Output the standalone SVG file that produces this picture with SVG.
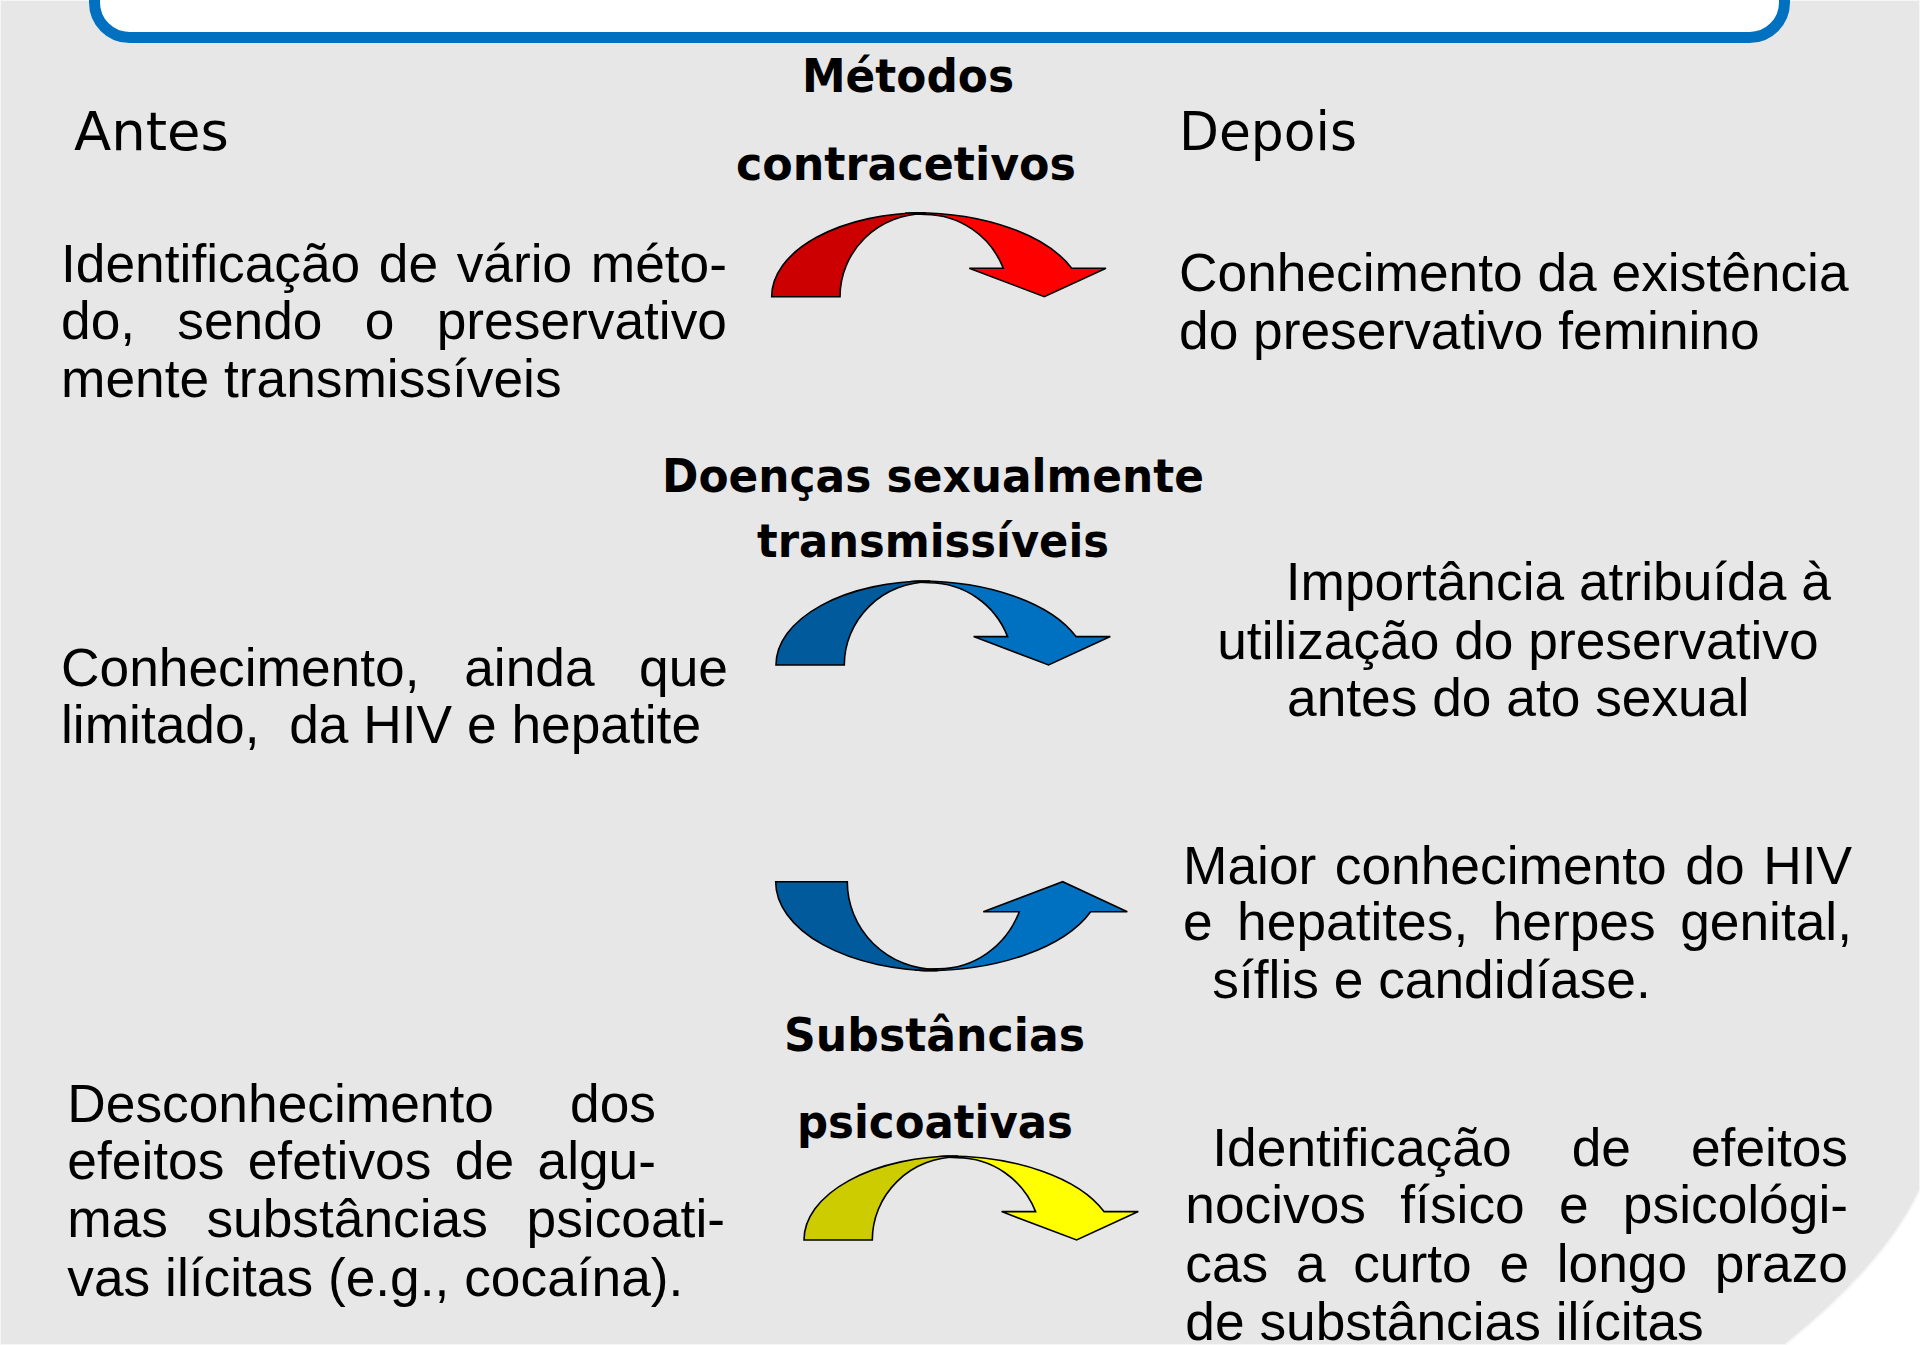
<svg xmlns="http://www.w3.org/2000/svg" width="1920" height="1345" viewBox="0 0 1920 1345">
  <style>
    .body { font-family: "Liberation Sans", Arial, sans-serif; font-size: 53.3px; fill: #000; }
    .head { font-family: "DejaVu Sans", "Liberation Sans", sans-serif; font-size: 53px; fill: #000; }
    .title { font-family: "DejaVu Sans", "Liberation Sans", sans-serif; font-size: 47px; font-weight: bold; fill: #000; }
    .arr { stroke: #000; stroke-width: 1.6; stroke-linejoin: miter; }
    .red1 { fill: #cc0000; } .red2 { fill: #ff0000; }
    .blu1 { fill: #005a9c; } .blu2 { fill: #0070c0; }
    .yel1 { fill: #cccc00; } .yel2 { fill: #ffff00; }
  </style>
  <rect x="0" y="0" width="1920" height="1345" fill="#ffffff"/>
  <path id="bg" d="M 0,0 L 1920,0 L 1920,1190 Q 1885,1265 1785,1345 L 0,1345 Z" fill="#e7e7e7" stroke="#f6f6f6" stroke-width="2"/>
  <g id="top-box">
    <rect x="94.5" y="-60" width="1690" height="97.5" rx="35" ry="35" fill="#ffffff" stroke="#0070c0" stroke-width="11"/>
  </g>

  <g id="headers">
    <text class="head" x="74" y="150" textLength="155" lengthAdjust="spacingAndGlyphs">Antes</text>
    <text class="head" x="1179" y="150" textLength="178" lengthAdjust="spacingAndGlyphs">Depois</text>
  </g>

  <g id="title-metodos">
    <text class="title" x="802" y="92" textLength="212" lengthAdjust="spacingAndGlyphs">Métodos</text>
    <text class="title" x="736" y="180" textLength="340" lengthAdjust="spacingAndGlyphs">contracetivos</text>
  </g>
  <g id="title-doencas">
    <text class="title" x="662" y="492" textLength="542" lengthAdjust="spacingAndGlyphs">Doenças sexualmente</text>
    <text class="title" x="757" y="557" textLength="352" lengthAdjust="spacingAndGlyphs">transmissíveis</text>
  </g>
  <g id="title-substancias">
    <text class="title" x="784" y="1051" textLength="301" lengthAdjust="spacingAndGlyphs">Substâncias</text>
    <text class="title" x="797" y="1138" textLength="276" lengthAdjust="spacingAndGlyphs">psicoativas</text>
  </g>

  <g id="connectors">
    <g id="arrow-red">
      <path class="arr red2" d="M 905,213.4 L 915,212.7 A 168,87 0 0 1 1071.7,268.3 L 1106,268.3 L 1044.3,296.7 L 969.3,268.3 L 1003.3,268.3 A 84.3,85.5 0 0 0 925,214.5 Z"/>
      <path class="arr red1" d="M 771.7,296.7 A 153.3,84 0 0 1 925,212.7 L 925,213.7 A 85,83 0 0 0 840,296.7 Z"/>
    </g>
    <g id="arrow-blue1" transform="translate(4.3,368.3)">
      <path class="arr blu2" d="M 905,213.4 L 915,212.7 A 168,87 0 0 1 1071.7,268.3 L 1106,268.3 L 1044.3,296.7 L 969.3,268.3 L 1003.3,268.3 A 84.3,85.5 0 0 0 925,214.5 Z"/>
      <path class="arr blu1" d="M 771.7,296.7 A 153.3,84 0 0 1 925,212.7 L 925,213.7 A 85,83 0 0 0 840,296.7 Z"/>
    </g>
    <g id="arrow-blue2">
      <path class="arr blu2" d="M 915,969.9 L 925,970.7 A 176,92 0 0 0 1090.7,911.7 L 1127.3,911.7 L 1062.7,881.7 L 983.3,911.7 L 1019.3,911.7 A 87,89.7 0 0 1 936.7,968.8 Z"/>
      <path class="arr blu1" d="M 775.7,881.7 A 161,89 0 0 0 936.7,970.7 L 936.7,969.5 A 89.4,87.8 0 0 1 847.3,881.7 Z"/>
    </g>
    <g id="arrow-yellow" transform="translate(32.3,943.3)">
      <path class="arr yel2" d="M 905,213.4 L 915,212.7 A 168,87 0 0 1 1071.7,268.3 L 1106,268.3 L 1044.3,296.7 L 969.3,268.3 L 1003.3,268.3 A 84.3,85.5 0 0 0 925,214.5 Z"/>
      <path class="arr yel1" d="M 771.7,296.7 A 153.3,84 0 0 1 925,212.7 L 925,213.7 A 85,83 0 0 0 840,296.7 Z"/>
    </g>
  </g>

  <g id="antes-metodos">
    <text class="body" y="282"><tspan x="61">Identificação</tspan><tspan x="378.8">de</tspan><tspan x="456.7">vário</tspan><tspan x="727" text-anchor="end">méto-</tspan></text>
    <text class="body" y="339"><tspan x="61">do,</tspan><tspan x="177.3">sendo</tspan><tspan x="364.8">o</tspan><tspan x="727" text-anchor="end">preservativo</tspan></text>
    <text class="body" x="61" y="397">mente transmissíveis</text>
  </g>
  <g id="antes-doencas">
    <text class="body" y="686"><tspan x="61">Conhecimento,</tspan><tspan x="464.2">ainda</tspan><tspan x="728" text-anchor="end">que</tspan></text>
    <text class="body" y="743"><tspan x="61">limitado,</tspan><tspan x="289.2">da HIV e hepatite</tspan></text>
  </g>
  <g id="antes-substancias">
    <text class="body" y="1122"><tspan x="67.3">Desconhecimento</tspan><tspan x="656" text-anchor="end">dos</tspan></text>
    <text class="body" y="1179"><tspan x="67.3">efeitos</tspan><tspan x="247.7">efetivos</tspan><tspan x="454.8">de</tspan><tspan x="656" text-anchor="end">algu-</tspan></text>
    <text class="body" y="1237"><tspan x="67.3">mas</tspan><tspan x="206.4">substâncias</tspan><tspan x="725" text-anchor="end">psicoati-</tspan></text>
    <text class="body" x="67.3" y="1295.5">vas ilícitas (e.g., cocaína).</text>
  </g>

  <g id="depois-metodos">
    <text class="body" x="1179" y="291">Conhecimento da existência</text>
    <text class="body" x="1179" y="349">do preservativo feminino</text>
  </g>
  <g id="depois-doencas">
    <text class="body" x="1285.7" y="600">Importância atribuída à</text>
    <text class="body" x="1217.2" y="659">utilização do preservativo</text>
    <text class="body" x="1287" y="716">antes do ato sexual</text>
  </g>
  <g id="depois-doencas-2">
    <text class="body" y="884"><tspan x="1183">Maior</tspan><tspan x="1334.8">conhecimento</tspan><tspan x="1685.3">do</tspan><tspan x="1852" text-anchor="end">HIV</tspan></text>
    <text class="body" y="940.4"><tspan x="1183">e</tspan><tspan x="1237.1">hepatites,</tspan><tspan x="1492.7">herpes</tspan><tspan x="1852" text-anchor="end">genital,</tspan></text>
    <text class="body" x="1212.3" y="998">síflis e candidíase.</text>
  </g>
  <g id="depois-substancias">
    <text class="body" y="1165.7"><tspan x="1212.3">Identificação</tspan><tspan x="1571.7">de</tspan><tspan x="1848" text-anchor="end">efeitos</tspan></text>
    <text class="body" y="1223.3"><tspan x="1185.3">nocivos</tspan><tspan x="1400.3">físico</tspan><tspan x="1559">e</tspan><tspan x="1848" text-anchor="end">psicológi-</tspan></text>
    <text class="body" y="1282"><tspan x="1185.3">cas</tspan><tspan x="1295.9">a</tspan><tspan x="1353.2">curto</tspan><tspan x="1499.4">e</tspan><tspan x="1556.7">longo</tspan><tspan x="1848" text-anchor="end">prazo</tspan></text>
    <text class="body" x="1185.3" y="1339.6">de substâncias ilícitas</text>
  </g>
</svg>
